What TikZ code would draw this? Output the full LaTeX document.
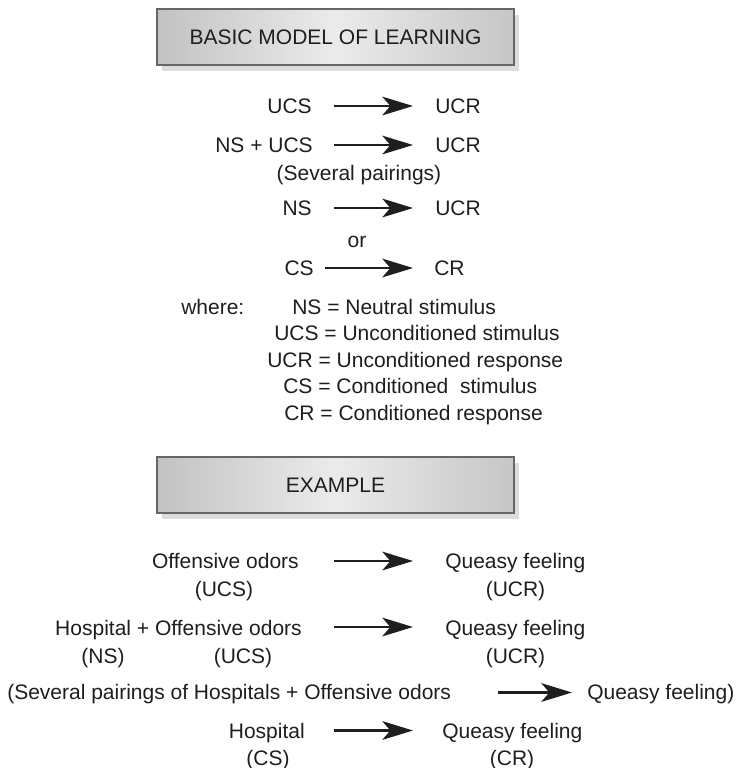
\documentclass[tikz,border=0pt]{standalone}
\usepackage{fontspec}
\setmainfont{Liberation Sans}
\usetikzlibrary{arrows.meta,shadows}
\definecolor{boxb}{HTML}{666666}
\definecolor{boxl}{HTML}{C2C2C2}
\definecolor{boxm}{HTML}{EBEBEB}
\definecolor{boxr}{HTML}{C6C6C6}
\definecolor{shadowc}{HTML}{DCDCDC}
\definecolor{ink}{HTML}{1E1E1E}
\begin{document}
\begin{tikzpicture}[x=0.75pt,y=-0.75pt,
  every node/.style={inner sep=0pt, text=ink, font=\fontsize{15.75}{18}\selectfont},
  arr/.style={draw=ink, line width=1.9pt, -{Stealth[length=23pt,width=14pt,inset=6pt]}},
  titlebox/.style={draw=boxb, line width=1.5pt, left color=boxl, right color=boxr, middle color=boxm,
    minimum width=267.75pt, minimum height=42pt,
    general shadow={fill=shadowc, shadow xshift=3.75pt, shadow yshift=-4.5pt}},
  lt/.style={anchor=base east},
  rt/.style={anchor=base west},
  ct/.style={anchor=base},
  lw/.style={anchor=base west}
]
\useasboundingbox (0,0) rectangle (747,768);

% ---------- Basic model ----------
\node[titlebox] (box1) at (335.5,37) {BASIC MODEL OF LEARNING};

\node[lt] (r1l) at (312,113.5) {UCS};
\node[rt] (r1r) at (435,113.5) {UCR};
\coordinate (a1s) at (334,106); \coordinate (a1e) at (413,106);
\draw[arr] (a1s) -- (a1e);

\node[lt] (r2l) at (313,152.5) {NS + UCS};
\node[rt] (r2r) at (435,152.5) {UCR};
\coordinate (a2s) at (334,145); \coordinate (a2e) at (413,145);
\draw[arr] (a2s) -- (a2e);

\node[ct] (sev) at (359,180.5) {(Several pairings)};

\node[lt] (r3l) at (312,215.5) {NS};
\node[rt] (r3r) at (435,215.5) {UCR};
\coordinate (a3s) at (334,208); \coordinate (a3e) at (413,208);
\draw[arr] (a3s) -- (a3e);

\node[ct] (or) at (357,247) {or};

\node[lt] (r4l) at (314,275.5) {CS};
\node[rt] (r4r) at (434,275.5) {CR};
\coordinate (a4s) at (325,268); \coordinate (a4e) at (413,268);
\draw[arr] (a4s) -- (a4e);

\node[lw] (where) at (181,314) {where:};
\node[lw] (d1) at (292,314) {NS = Neutral stimulus};
\node[lw] (d2) at (274,340.5) {UCS = Unconditioned stimulus};
\node[lw] (d3) at (267,367) {UCR = Unconditioned response};
\node[lw] (d4) at (283,393.5) {CS = Conditioned\ \ stimulus};
\node[lw] (d5) at (284,420) {CR = Conditioned response};

% ---------- Example ----------
\node[titlebox] (box2) at (335.5,485) {EXAMPLE};

\node[lt] (e1l) at (299,568) {Offensive odors};
\node[ct] (e1ls) at (224,596) {(UCS)};
\node[rt] (e1r) at (445,568) {Queasy feeling};
\node[ct] (e1rs) at (515.5,596) {(UCR)};
\coordinate (b1s) at (334,561); \coordinate (b1e) at (413,561);
\draw[arr] (b1s) -- (b1e);

\node[lt] (e2l) at (302,635) {Hospital + Offensive odors};
\node[ct] (e2ns) at (103,663) {(NS)};
\node[ct] (e2ucs) at (243,663) {(UCS)};
\node[rt] (e2r) at (445,635) {Queasy feeling};
\node[ct] (e2rs) at (515.5,663) {(UCR)};
\coordinate (b2s) at (334,627); \coordinate (b2e) at (413,627);
\draw[arr] (b2s) -- (b2e);

\node[lw] (e3l) at (7,699.5) {(Several pairings of Hospitals + Offensive odors};
\node[rt] (e3r) at (587,699.5) {Queasy feeling)};
\coordinate (b3s) at (498,692.5); \coordinate (b3e) at (572,692.5);
\draw[arr] (b3s) -- (b3e);

\node[lt] (e4l) at (305,738) {Hospital};
\node[ct] (e4ls) at (268,765) {(CS)};
\node[rt] (e4r) at (442,738) {Queasy feeling};
\node[ct] (e4rs) at (512,765) {(CR)};
\coordinate (b4s) at (334,730.5); \coordinate (b4e) at (413,730.5);
\draw[arr] (b4s) -- (b4e);
\end{tikzpicture}
\end{document}
